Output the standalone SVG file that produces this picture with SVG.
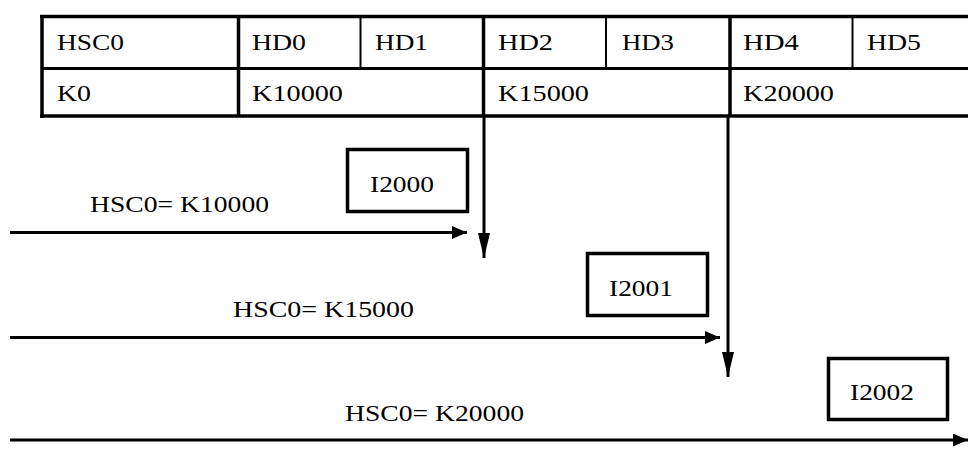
<svg xmlns="http://www.w3.org/2000/svg" width="968" height="462" viewBox="0 0 968 462">
<style>
.thick{stroke:#000;stroke-width:3.5;fill:none}
.thin{stroke:#000;stroke-width:2;fill:none}
.box{stroke:#000;stroke-width:3.5;fill:#fff}
.conn{stroke:#000;stroke-width:3;fill:none}
</style>
<defs>
<marker id="ah" markerUnits="userSpaceOnUse" markerWidth="16" markerHeight="13" refX="15" refY="6.5" orient="auto">
<path d="M0,0 L15,6.5 L0,13 z" fill="#000"/>
</marker>
<marker id="av" markerUnits="userSpaceOnUse" markerWidth="26" markerHeight="12" refX="25" refY="6" orient="auto">
<path d="M0,0 L25,6 L0,12 z" fill="#000"/>
</marker>
</defs>
<rect width="968" height="462" fill="#fff"/>
<g id="table">
<line class="thick" x1="40" y1="16.5" x2="968" y2="16.5"/>
<line class="thick" x1="40" y1="116" x2="968" y2="116"/>
<line class="conn" x1="42" y1="68.5" x2="968" y2="68.5"/>
<line class="thick" x1="42" y1="15" x2="42" y2="118"/>
<line class="thick" x1="238.5" y1="16" x2="238.5" y2="116"/>
<line class="thick" x1="483.5" y1="16" x2="483.5" y2="116"/>
<line class="thick" x1="730" y1="16" x2="730" y2="116"/>
<line class="thin" x1="360.5" y1="16" x2="360.5" y2="68"/>
<line class="thin" x1="606" y1="16" x2="606" y2="68"/>
<line class="thin" x1="852.5" y1="16" x2="852.5" y2="68"/>
<g font-family="Liberation Serif, Times New Roman, serif" font-size="24" fill="#000">
<text x="57" y="50" textLength="67" lengthAdjust="spacingAndGlyphs">HSC0</text>
<text x="252" y="50" textLength="54" lengthAdjust="spacingAndGlyphs">HD0</text>
<text x="375" y="50" textLength="53" lengthAdjust="spacingAndGlyphs">HD1</text>
<text x="498" y="50" textLength="55" lengthAdjust="spacingAndGlyphs">HD2</text>
<text x="622" y="50" textLength="52" lengthAdjust="spacingAndGlyphs">HD3</text>
<text x="743" y="50" textLength="56" lengthAdjust="spacingAndGlyphs">HD4</text>
<text x="867" y="50" textLength="54" lengthAdjust="spacingAndGlyphs">HD5</text>
<text x="57" y="101" textLength="34" lengthAdjust="spacingAndGlyphs">K0</text>
<text x="252" y="101" textLength="91" lengthAdjust="spacingAndGlyphs">K10000</text>
<text x="498" y="101" textLength="91" lengthAdjust="spacingAndGlyphs">K15000</text>
<text x="743" y="101" textLength="91" lengthAdjust="spacingAndGlyphs">K20000</text>
</g>
</g>
<g id="connectors">
<line class="conn" x1="484" y1="116" x2="484" y2="258" marker-end="url(#av)"/>
<line class="conn" x1="728" y1="116" x2="728" y2="377" marker-end="url(#av)"/>
<line class="conn" x1="10" y1="232.5" x2="467" y2="232.5" marker-end="url(#ah)"/>
<line class="conn" x1="10" y1="337.5" x2="720" y2="337.5" marker-end="url(#ah)"/>
<line class="conn" x1="10" y1="440" x2="968" y2="440" marker-end="url(#ah)"/>
</g>
<g font-family="Liberation Serif, Times New Roman, serif" font-size="24" fill="#000">
<g id="label1"><text x="90" y="212" textLength="179" lengthAdjust="spacingAndGlyphs">HSC0= K10000</text></g>
<g id="label2"><text x="233" y="317" textLength="181" lengthAdjust="spacingAndGlyphs">HSC0= K15000</text></g>
<g id="label3"><text x="345" y="421" textLength="179" lengthAdjust="spacingAndGlyphs">HSC0= K20000</text></g>
<g id="I2000">
<rect class="box" x="347.5" y="149.5" width="120" height="62"/>
<text x="370" y="192" textLength="64" lengthAdjust="spacingAndGlyphs">I2000</text>
</g>
<g id="I2001">
<rect class="box" x="587.5" y="253.5" width="120" height="62"/>
<text x="609" y="296" textLength="64" lengthAdjust="spacingAndGlyphs">I2001</text>
</g>
<g id="I2002">
<rect class="box" x="828.5" y="358.5" width="119" height="61"/>
<text x="850" y="400" textLength="64" lengthAdjust="spacingAndGlyphs">I2002</text>
</g>
</g>
</svg>
